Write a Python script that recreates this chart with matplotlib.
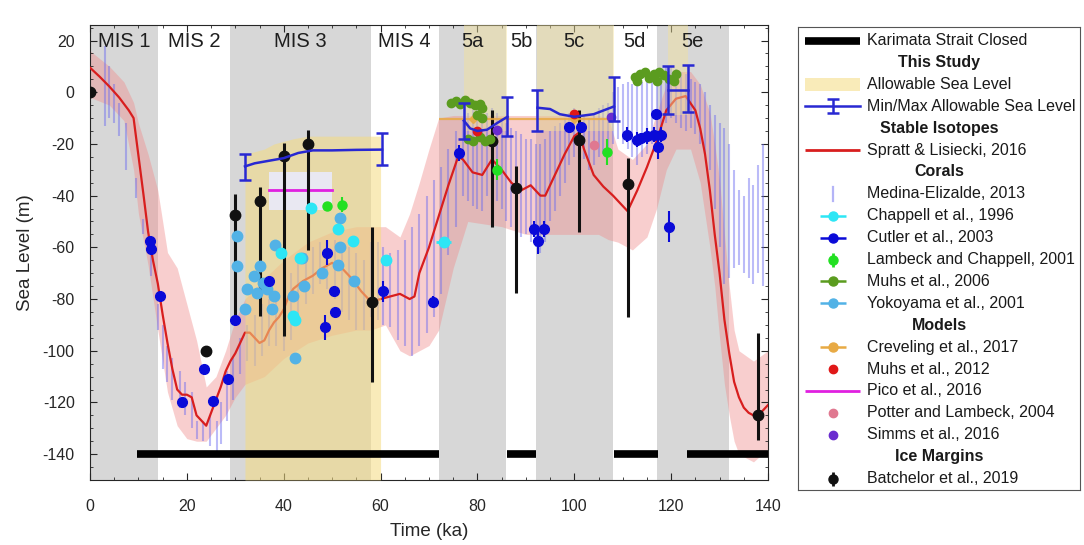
import numpy as np
import matplotlib
matplotlib.use('Agg')
import matplotlib.pyplot as plt

plt.rcParams['font.family'] = ['Liberation Sans', 'DejaVu Sans']
plt.rcParams['axes.unicode_minus'] = False
TXT = '#262626'

# Marine isotope stage boundaries (ka) and names
stage_bounds = [0, 14, 29, 58, 72, 86, 92, 108, 117, 132]
stage_names = ['MIS 1', 'MIS 2', 'MIS 3', 'MIS 4', '5a', '5b', '5c', '5d', '5e']

# Karimata Strait closed intervals (ka)
karimata_start = [9.7, 86.2, 108.2, 123.3]
karimata_end = [72, 92, 117.2, 140]
karimata_level = -140

# Spratt & Lisiecki 2016 sea level stack
sl_age = [0, 2, 4, 6, 8, 9, 10, 11, 12, 13, 14, 15, 16, 17, 18, 19, 20, 21, 22, 23,
          24, 25, 26, 27, 28, 29, 30, 31, 32, 33, 34, 35, 36, 37, 38, 39, 40, 41, 42,
          44, 46, 48, 50, 52, 54, 56, 58, 60, 62, 64, 66, 67, 68, 70, 72, 74, 76, 77,
          79, 81, 83, 85, 87, 89, 91, 93, 94, 96, 98, 100, 101, 102, 104, 106, 108,
          110, 111, 113, 115, 117, 119, 121, 123, 125, 126, 127, 128, 129, 130, 131,
          132, 133, 134, 135, 136, 137, 138, 139, 140]
sl_level = [9.5, 6, 2.2, -2, -7, -10, -24.5, -39, -54, -65, -74, -86, -97, -107, -115,
            -117, -117, -118, -125, -127, -129, -124, -119, -114, -108, -104, -101, -97,
            -93, -93, -95, -97, -96, -92, -89, -87, -84, -79, -76, -73, -71, -68, -66,
            -68, -72, -77, -81, -80, -79, -78, -80, -79, -70, -60, -48, -36, -25, -26,
            -31, -32, -26, -30, -35, -38, -36, -40, -40, -32, -24, -17, -15.6, -22, -32,
            -36.5, -40, -44, -46, -38, -29, -19, -7, -2.5, -1.5, -7, -14, -24, -38, -55,
            -70, -88, -101, -112, -118, -122, -124, -125, -125, -123, -121]
env_age = [0, 4, 7, 9, 10, 12, 14, 16, 18, 20, 22, 24, 26, 28, 30, 32, 36, 40, 45, 50,
           55, 58, 61, 64, 66, 68, 70, 72, 75, 78, 85, 90, 95, 100, 105, 107, 109, 112,
           115, 117, 119, 121, 124, 126, 128, 129, 130, 131, 132, 133, 134, 137, 140]
env_hi = [16, 10, 4, -4, -12, -24, -38, -62, -68, -82, -96, -114, -110, -100, -88, -80,
          -72, -65, -58, -54, -52, -52, -52, -56, -47, -35, -22, -10, -9, -9, -9, -9, -9,
          -9, -9, -10, -22, -26, -20, -8, 3, 8, 8, 3, -8, -20, -34, -55, -75, -92, -100,
          -104, -100]
env_lo = [-2, -5, -11, -30, -47, -67, -92, -116, -129, -134, -135, -135, -130, -125,
          -118, -113, -110, -103, -97, -94, -92, -92, -90, -100, -102, -100, -98, -92,
          -68, -50, -52, -55, -55, -55, -55, -57, -58, -61, -56, -45, -30, -22, -22, -35,
          -60, -75, -95, -113, -125, -135, -140, -143, -138]

# Medina-Elizalde 2013 coral ranges (top / bottom, m)
me_age = [3, 4, 5, 6, 7.5, 9.5, 11, 12.5, 14, 15, 16, 17, 18.5, 19.6, 21, 22, 23.4, 24.8,
          26.2, 27, 28.3, 29.6, 31, 32.5, 34, 35.5, 37, 38.5, 40, 41.5, 43, 44.5, 46, 47.5,
          49, 50.5, 52, 53.5, 55, 56.5, 58, 59.5, 60.6, 62, 63.5, 65, 66.5, 68, 69.5, 71,
          72.5, 74, 75.5, 77, 78, 79, 80, 81, 82, 83, 84, 85, 86, 87, 88, 89, 90, 91, 92,
          93, 94, 95, 96, 97, 98, 99, 100, 101, 102, 103, 104, 105, 106, 107, 108, 109,
          110, 111, 112, 113, 114, 115, 116, 117, 118, 119, 120, 121, 122, 123, 124, 125,
          126, 127, 128, 129, 130, 131, 132, 133, 134, 135, 136, 137, 138, 139]
me_top = [18, 10, 3, -4, -12, -33, -49, -63, -82, -90, -98, -103, -108, -112, -116, -127,
          -127, -125, -127, -120, -108, -103, -95, -90, -86, -82, -80, -78, -76, -70, -66,
          -62, -60, -58, -57, -57, -58, -60, -62, -65, -58, -58, -60, -62, -61, -57, -52,
          -47, -40, -34, -29, -22, -15, -10, -8, -7, -6, -7, -8, -6, -8, -10, -12, -14,
          -15, -16, -18, -18, -20, -20, -18, -15, -13, -12, -10, -8, -6, -8, -9, -10, -8,
          -6, -5, -4, 0, 2, 3, 4, 3, 5, 4, 6, 7, 8, 9, 10, 10, 9, 8, 7, 5, 4, 3, 0, -5, -9,
          -12, -14, -20, -30, -38, -40, -33, -36, -28, -20]
me_bot = [-13, -10, -12, -17, -30, -41, -55, -71, -92, -107, -112, -119, -122, -125, -130,
          -134, -135, -137, -141, -136, -127, -119, -109, -104, -106, -102, -98, -98, -100,
          -96, -90, -82, -78, -74, -76, -80, -85, -88, -92, -92, -87, -88, -90, -91, -96,
          -98, -102, -98, -93, -87, -78, -63, -52, -40, -42, -44, -45, -46, -40, -38, -42,
          -45, -50, -52, -55, -56, -55, -58, -60, -62, -58, -50, -46, -40, -35, -28, -25,
          -24, -26, -30, -28, -25, -24, -22, -20, -18, -20, -22, -25, -28, -25, -24, -20,
          -18, -15, -12, -10, -12, -14, -15, -14, -16, -20, -24, -30, -45, -60, -74, -72,
          -68, -67, -70, -72, -74, -70, -75]

# Allowable sea level (this study)
allow3_age = [32, 34, 36, 38, 40, 42, 45, 60]
allow3_top = [-24, -23, -22, -20, -19, -18, -17, -17]
allow_start = [77.2, 92.4, 119.3]
allow_end = [86.2, 108.2, 123.4]
allow_floor = [-15, -15, -9]

# Min/max allowable sea level (this study)
mm3_age = [32, 34, 37, 40, 43, 46, 50, 55, 60.3]
mm3_sl = [-28.7, -27.5, -26.5, -25.5, -23.5, -22.5, -22.5, -22.3, -22.2]
mm5a_age = [77.2, 78.5, 80, 82, 84, 86.2]
mm5a_sl = [-11, -14, -15, -14.5, -12, -9.5]
mm5c_age = [92.4, 95, 97, 100, 104, 108.2]
mm5c_sl = [-6, -6.5, -8.5, -9.5, -8.5, -5.5]
mm5e_age = [119.3, 123.4]
mm5e_sl = [1, 1]
cap_age = [32, 60.3, 77.2, 86.2, 92.4, 108.2, 119.3, 123.4]
cap_hi = [-24, -15.7, -4, -2, 1, 6, 10, 10.7]
cap_lo = [-34, -28, -18, -17, -15, -11, -8.6, -7.5]

# Corals
chap_age = [42.0, 43.4, 45.7, 51.3, 54.4, 61.2, 73.0, 42.4, 39.5]
chap_sl = [-86.7, -64, -44.6, -53, -57.6, -65, -58, -88, -62]
chap_xerr = [0.5, 0.5, 0.5, 0.5, 0.5, 0.6, 1.5, 0.5, 0.5]

cut_age = [12.4, 12.5, 14.5, 19, 23.6, 25.3, 28.5, 30, 37, 49, 50.3, 50.6, 48.6, 60.5,
           70.9, 76.1, 91.6, 93.7, 92.6, 98.9, 101.3, 110.8, 113, 113.7, 115.1, 116.4,
           117.9, 117.2, 116.8, 119.6]
cut_sl = [-57.6, -60.8, -79, -120, -107, -119.3, -110.8, -88, -73, -62, -77, -85, -91,
          -77, -81, -23.5, -53, -53, -57.7, -13.6, -13.6, -16.4, -18.3, -17.6, -17, -16.4,
          -16.4, -21, -8.6, -52]
cut_err = [1, 1, 1, 1, 1, 1, 1, 1, 2, 5, 2, 2, 5, 4, 2, 3, 3, 3, 5, 2, 2, 3, 3, 2, 3, 3,
           3, 5, 2, 6]

lam_age = [49, 52, 84, 106.7]
lam_sl = [-44, -43.5, -30, -23]
lam_err = [1, 3, 4, 5]

muhs06_age = [74.5, 75.5, 76.5, 77.5, 78.5, 79.5, 80.5, 81, 80, 81, 78, 79, 80.5, 81.5,
              82.5, 112.5, 113.5, 114.5, 115.5, 116.5, 117.5, 118.5, 119.5, 120.5, 121,
              113, 117]
muhs06_sl = [-4, -3.5, -4.5, -3, -4, -5, -4.5, -6, -9, -10, -18, -19, -17.5, -19, -18, 6,
             7, 8, 5.5, 7, 8, 6.5, 5, 4.5, 7, 4.5, 4.5]

yoko_age = [30.3, 30.3, 32.4, 32, 33.8, 35.2, 35.8, 37.9, 37.5, 38.2, 43.8, 42, 51.7,
            51.7, 51.3, 54.5, 42.4, 34.4, 36.5, 44.1, 48]
yoko_sl = [-55.8, -67.4, -76, -84, -71, -67.4, -73.8, -79, -84, -59, -64, -79, -48.6,
           -60, -67, -73, -103, -77.6, -76, -75, -70]

# Models
crev_age = [79, 100]
crev_sl = [-10.5, -10.5]
crev_xlo = [7, 14]
crev_xhi = [7, 8]
muhs12_age = [80, 100]
muhs12_sl = [-15, -8.5]
pico_age = [37, 50]
pico_sl = -38
pico_lo, pico_hi = -45.5, -31
potter_age = [104]
potter_sl = [-20.5]
simms_age = [84, 107.5]
simms_sl = [-14.5, -9.5]

# Ice margins (Batchelor et al. 2019)
bat_age = [0, 24, 30, 35, 40, 45, 58.3, 83, 88, 101, 111, 138]
bat_sl = [0, -100, -47.5, -42, -24.8, -20, -81, -19, -37, -18.3, -35.4, -124.7]
bat_hi = [0, -100, -39.5, -36.5, -19.6, -14.5, -52, -6.8, -28.6, -6.7, -25.4, -93]
bat_lo = [0, -100, -86.7, -86.7, -94.4, -61, -112, -52, -77.6, -54, -87, -134.4]

# colours
GRAY = '#d7d7d7'
YELLOW = '#f5dc80'
YELLOW_5 = '#f2e29a'
PINK = '#f08c8c'
RED = '#d81e1e'
MEDINA = '#6a6af0'
BLUE_MM = '#2828d2'
CYAN = '#2de6f5'
CUTLER = '#0a0ad8'
GREEN = '#22e022'
OLIVE = '#5b9c1f'
SKY = '#52b2e6'
ORANGE = '#e8aa44'
MAGENTA = '#e020e0'
POTTER = '#e07890'
PURPLE = '#6a2ccf'

fig = plt.figure(figsize=(10.84, 5.45), dpi=100)
ax = fig.add_axes([90 / 1084, 65 / 545, 678 / 1084, 455 / 545])

# stage shading and labels
for i, name in enumerate(stage_names):
    a0, a1 = stage_bounds[i], stage_bounds[i + 1]
    if i % 2 == 0:
        ax.axvspan(a0, a1, color=GRAY, lw=0, zorder=0)
    ax.text((a0 + a1) / 2, 19.5, name, ha='center', va='center', fontsize=14.5,
            color='#1e1e1e', zorder=10)

# stable isotope envelope, coral ranges and stack
ax.fill_between(env_age, env_lo, env_hi, color=PINK, alpha=0.42, lw=0, zorder=1)
ax.vlines(me_age, me_bot, me_top, color=MEDINA, alpha=0.45, lw=1.5, zorder=2)
ax.plot(sl_age, sl_level, color=RED, lw=1.6, zorder=3)

# allowable sea level windows
ax.fill_between(allow3_age, -150, allow3_top, color=YELLOW, alpha=0.55, lw=0, zorder=4)
for a0, a1, fl in zip(allow_start, allow_end, allow_floor):
    ax.fill_between([a0, a1], fl, 30, color=YELLOW_5, alpha=0.45, lw=0, zorder=4)

# Pico et al. 2016 range
ax.fill_between(pico_age, pico_lo, pico_hi, color='#eaeafb', alpha=0.9, lw=0, zorder=4.5)
ax.plot(pico_age, [pico_sl, pico_sl], color=MAGENTA, lw=2, zorder=5)

# Karimata Strait closure
ax.hlines([karimata_level] * len(karimata_start), karimata_start, karimata_end,
          color='k', lw=5.5, zorder=5)

# ice margin constraints
bat_sl_a = np.array(bat_sl)
bat_err = [bat_sl_a - np.array(bat_lo), np.array(bat_hi) - bat_sl_a]
ax.errorbar(bat_age, bat_sl, yerr=bat_err, fmt='o', color='#111111', ms=7.5,
            elinewidth=2.2, capsize=0, zorder=6)

# coral data
ax.errorbar(yoko_age, yoko_sl, fmt='o', color=SKY, ms=7.5, zorder=7)
ax.errorbar(chap_age, chap_sl, xerr=chap_xerr, fmt='o', color=CYAN, ms=7.5,
            elinewidth=2, capsize=0, zorder=7)
ax.errorbar(lam_age, lam_sl, yerr=lam_err, fmt='o', color=GREEN, ms=6.5,
            elinewidth=1.5, capsize=0, zorder=7)
ax.errorbar(muhs06_age, muhs06_sl, xerr=0.6, fmt='o', color=OLIVE, ms=6,
            elinewidth=1.5, capsize=0, zorder=7)
ax.errorbar(cut_age, cut_sl, yerr=cut_err, fmt='o', color=CUTLER, ms=7,
            elinewidth=1.5, capsize=0, zorder=7.2)

# model estimates
ax.errorbar(crev_age, crev_sl, xerr=[crev_xlo, crev_xhi], fmt='D', color=ORANGE, ms=4.5,
            elinewidth=1.6, capsize=0, alpha=0.85, zorder=6.5)
ax.plot(muhs12_age, muhs12_sl, 'o', color='#e01818', ms=6, zorder=7.3)
ax.plot(potter_age, potter_sl, 'o', color=POTTER, ms=6, zorder=7.3)
ax.plot(simms_age, simms_sl, 'o', color=PURPLE, ms=6, zorder=7.3)

# min / max allowable sea level
for ages, lev in [(mm3_age, mm3_sl), (mm5a_age, mm5a_sl), (mm5c_age, mm5c_sl),
                  (mm5e_age, mm5e_sl)]:
    ax.plot(ages, lev, color=BLUE_MM, lw=1.8, zorder=8)
cap_mid = (np.array(cap_hi) + np.array(cap_lo)) / 2
cap_half = (np.array(cap_hi) - np.array(cap_lo)) / 2
ax.errorbar(cap_age, cap_mid, yerr=cap_half, fmt='none', ecolor=BLUE_MM, elinewidth=1.8,
            capsize=4.5, capthick=1.8, zorder=8)

ax.set_xlim(0, 140)
ax.set_ylim(-150, 26)
ax.set_xticks(range(0, 141, 20))
ax.set_xticks(range(0, 141, 5), minor=True)
ax.set_yticks(range(-140, 21, 20))
ax.set_yticks(range(-150, 26, 5), minor=True)
ax.tick_params(which='both', direction='in', top=True, right=True, colors=TXT,
               labelsize=11.5)
ax.tick_params(which='major', length=5)
ax.tick_params(axis='y', which='major', pad=11)
ax.tick_params(axis='x', which='major', pad=14)
ax.tick_params(which='minor', length=2.5)
for s in ax.spines.values():
    s.set_color(TXT)
    s.set_linewidth(0.8)
ax.set_xlabel('Time (ka)', fontsize=13.5, color=TXT, labelpad=6)
ax.set_ylabel('Sea Level (m)', fontsize=13.5, color=TXT, labelpad=6)

# legend panel
lax = fig.add_axes([798 / 1084, 55 / 545, 282 / 1084, 463 / 545])
lax.set_xlim(0, 282)
lax.set_ylim(463, 0)
lax.set_xticks([])
lax.set_yticks([])
for s in lax.spines.values():
    s.set_color('#555555')
    s.set_linewidth(0.8)

entries = [
    ('line', 'Karimata Strait Closed', 'k'),
    ('head', 'This Study', None),
    ('patch', 'Allowable Sea Level', YELLOW),
    ('minmax', 'Min/Max Allowable Sea Level', BLUE_MM),
    ('head', 'Stable Isotopes', None),
    ('line', 'Spratt & Lisiecki, 2016', RED),
    ('head', 'Corals', None),
    ('vbar', 'Medina-Elizalde, 2013', MEDINA),
    ('hdot', 'Chappell et al., 1996', CYAN),
    ('hdot', 'Cutler et al., 2003', CUTLER),
    ('vdot', 'Lambeck and Chappell, 2001', GREEN),
    ('hdot', 'Muhs et al., 2006', OLIVE),
    ('hdot', 'Yokoyama et al., 2001', SKY),
    ('head', 'Models', None),
    ('hdot', 'Creveling et al., 2017', ORANGE),
    ('dot', 'Muhs et al., 2012', '#e01818'),
    ('line', 'Pico et al., 2016', MAGENTA),
    ('dot', 'Potter and Lambeck, 2004', POTTER),
    ('dot', 'Simms et al., 2016', PURPLE),
    ('head', 'Ice Margins', None),
    ('vdot', 'Batchelor et al., 2019', '#111111'),
]
x0, x1, xc, xt = 7, 62, 34.5, 69
for i, (kind, label, col) in enumerate(entries):
    y = 13.5 + 21.9 * i
    if kind == 'head':
        lax.text(141, y, label, ha='center', va='center', fontsize=11.5,
                 fontweight='bold', color='#1a1a1a')
        continue
    if kind == 'line':
        lw = 5.5 if col == 'k' else 2
        lax.plot([x0, x1], [y, y], color=col, lw=lw, solid_capstyle='butt')
    elif kind == 'patch':
        lax.fill_between([x0, x1], y - 6.5, y + 6.5, color=col, alpha=0.55, lw=0)
    elif kind == 'minmax':
        lax.plot([x0, x1], [y, y], color=col, lw=1.8)
        lax.errorbar([xc], [y], yerr=7, fmt='none', ecolor=col, elinewidth=1.8,
                     capsize=4.5, capthick=1.8)
    elif kind == 'vbar':
        lax.plot([xc, xc], [y - 7, y + 7], color=col, alpha=0.5, lw=1.6)
    elif kind == 'hdot':
        lax.errorbar([xc], [y], xerr=13, fmt='o', color=col, ms=6.5, elinewidth=1.8,
                     capsize=0)
    elif kind == 'vdot':
        lax.errorbar([xc], [y], yerr=7, fmt='o', color=col, ms=6.5, elinewidth=2,
                     capsize=0)
    elif kind == 'dot':
        lax.plot([xc], [y], 'o', color=col, ms=6)
    lax.text(xt, y, label, ha='left', va='center', fontsize=11.5, color='#1a1a1a')

fig.savefig('out.png', dpi=100)
